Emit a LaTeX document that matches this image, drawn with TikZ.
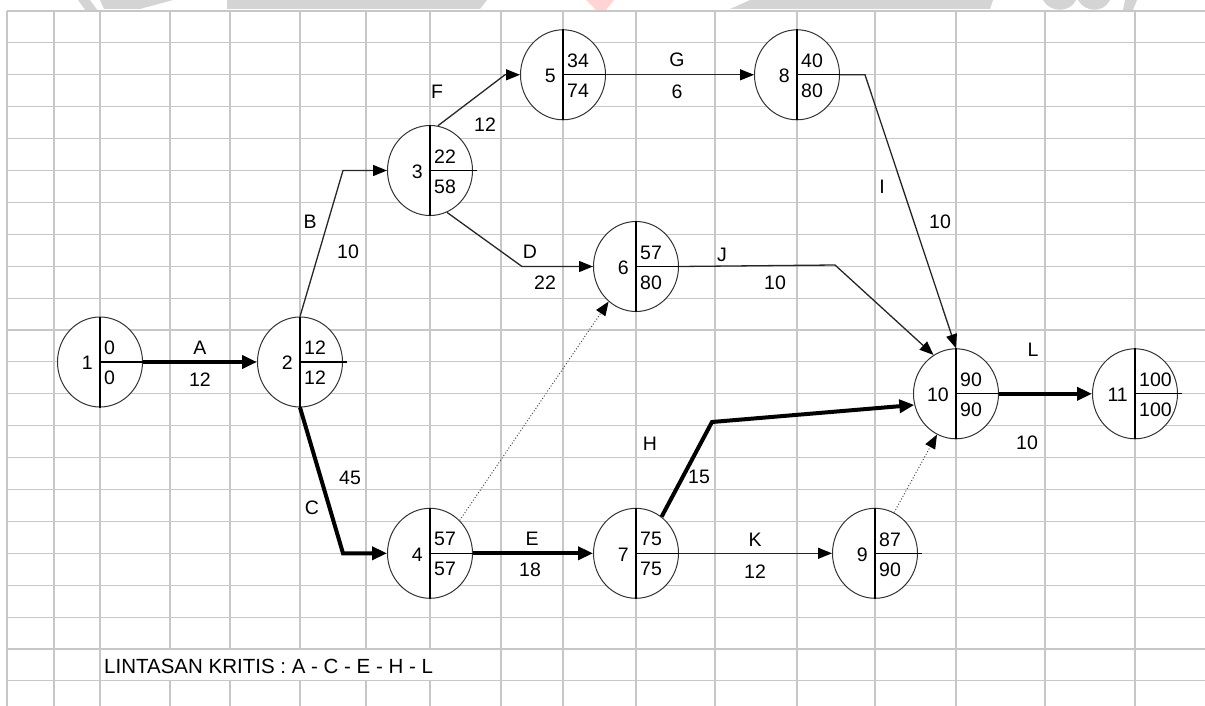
\documentclass[tikz,border=0pt]{standalone}
\usepackage{fontspec}
\setmainfont{Liberation Sans}
\usetikzlibrary{arrows.meta,shapes.geometric,calc}

% event node: name, x, y, number, earliest time, latest time
\newcommand\eventnode[6]{%
  \node[event] (#1) at (#2,#3) {};
  \draw[divider] (#1.north) -- (#1.south);
  \draw[divider] (#1.center) -- ($(#1.east)+(4,0)$);
  \node[lbl, anchor=east] (#1-no) at ($(#1.center)+(-7,1)$) {#4};
  \node[lbl, anchor=west] (#1-es) at ($(#1.center)+(4,-14)$) {#5};
  \node[lbl, anchor=west] (#1-ls) at ($(#1.center)+(4,16)$) {#6};
}

\begin{document}
\begin{tikzpicture}[x=1pt,y=-1pt,
  gridline/.style={draw=black!22, line width=1.1pt},
  wm/.style={fill=black!17},
  event/.style={draw=black!80, line width=1pt, fill=white, ellipse,
    minimum width=85pt, minimum height=90pt, inner sep=0pt},
  divider/.style={draw=black, line width=1.3pt},
  lbl/.style={font=\fontsize{19.5}{21}\selectfont, inner sep=0pt},
  act/.style={draw=black!85, line width=1.3pt, -{Triangle[length=14pt,width=11pt,color=black]}},
  crit/.style={draw=black, line width=4pt, -{Triangle[length=15pt,width=13pt]}},
  dummy/.style={draw=black!70, line width=1pt, dotted, -{Triangle[length=14pt,width=11pt,color=black]}},
]
\useasboundingbox (0,0) rectangle (1205,706);

% faded marks along the top edge
\begin{scope}
  \clip (0,0) rectangle (1205,10.5);
  \fill[wm] (78,0) -- (90,0) -- (98,11) -- (86,11) -- cycle;
  \fill[wm] (100,0) -- (173,0) -- (140,9) -- (104,9) -- cycle;
  \fill[wm] (227,0) -- (487,0) -- (480,9) -- (227,9) -- cycle;
  \fill[red!17] (586,0) -- (614,0) -- (606,10) -- (596,10) -- cycle;
  \fill[wm] (750,0) -- (993,0) -- (990,9) -- (730,9) -- cycle;
  \fill[wm] (1043,0) .. controls (1050,13) and (1070,13) .. (1076,0) -- cycle;
  \fill[wm] (1078,0) .. controls (1085,13) and (1104,13) .. (1110,0) -- cycle;
  \fill[wm] (1125,0) -- (1137,0) -- (1133,10) -- (1123,10) -- cycle;
\end{scope}

% sheet grid
\foreach \k in {0,...,21}
  \draw[gridline] (7,{11+31.9*\k}) -- (1205,{11+31.9*\k});
\foreach \x in {7,54,100,170,230,300,366,430,501,563,636,715,797,875,956,1045,1135}
  \draw[gridline] (\x,11) -- (\x,706);
\fill[white] (100.7,649.6) rectangle (500.4,680.3);

% events
\eventnode{n1}{100}{362}{1}{0}{0}
\eventnode{n2}{300}{362}{2}{12}{12}
\eventnode{n3}{430}{170.5}{3}{22}{58}
\eventnode{n4}{430}{553.3}{4}{57}{57}
\eventnode{n5}{563}{74.8}{5}{34}{74}
\eventnode{n6}{636}{266.5}{6}{57}{80}
\eventnode{n7}{636}{553.3}{7}{75}{75}
\eventnode{n8}{797}{74.8}{8}{40}{80}
\eventnode{n9}{875}{553.3}{9}{87}{90}
\eventnode{n10}{956}{393.8}{10}{90}{90}
\eventnode{n11}{1135}{393.8}{11}{100}{100}

% bend points of the activity arrows
\coordinate (bB) at (343,170.5);
\coordinate (bC) at (343,553.3);
\coordinate (bF) at (505,74.8);
\coordinate (bD) at (522,266.5);
\coordinate (bI) at (865,74.8);
\coordinate (bJ) at (835,265);
\coordinate (bH) at (712,422);

% activities
\draw[crit] (n1.east) -- (n2.west);
\draw[act] (n2.north) -- (bB) -- (n3.west);
\draw[crit] (n2.south) -- (bC) -- (n4.west);
\draw[act] (n3.80) -- (bF) -- (n5.west);
\draw[act] (n3.-68) -- (bD) -- (n6.west);
\draw[act] (n5.east) -- (n8.west);
\draw[act] (n8.east) -- (bI) -- (n10.north);
\draw[act] (n6.east) -- (bJ) -- (n10.120);
\draw[dummy] (n4.48) -- (n6.-128);
\draw[crit] (n4.east) -- (n7.west);
\draw[crit] (n7.55) -- (bH) -- (n10.-165);
\draw[act] (n7.east) -- (n9.west);
\draw[dummy] (n9.65) -- (n10.-115);
\draw[crit] (n10.east) -- (n11.west);

% activity names and durations
\node[lbl] (tA) at (200,348) {A};
\node[lbl] (dA) at (200,380) {12};
\node[lbl] (tB) at (310,222) {B};
\node[lbl] (dB) at (348,252) {10};
\node[lbl] (tC) at (312,508) {C};
\node[lbl] (dC) at (350,478) {45};
\node[lbl] (tF) at (437,92) {F};
\node[lbl] (dF) at (485,125) {12};
\node[lbl] (tG) at (677,60) {G};
\node[lbl] (dG) at (677,92) {6};
\node[lbl] (tD) at (530,252) {D};
\node[lbl] (dD) at (545,283) {22};
\node[lbl] (tI) at (882,187) {I};
\node[lbl] (dI) at (940,222) {10};
\node[lbl] (tJ) at (722,255) {J};
\node[lbl] (dJ) at (775,283) {10};
\node[lbl] (tL) at (1033,350) {L};
\node[lbl] (dL) at (1027,443) {10};
\node[lbl] (tH) at (650,444) {H};
\node[lbl] (dH) at (699,477) {15};
\node[lbl] (tE) at (532,539) {E};
\node[lbl] (dE) at (530,570) {18};
\node[lbl] (tK) at (755,540) {K};
\node[lbl] (dK) at (755,572) {12};

\node[lbl, anchor=west, font=\fontsize{20.5}{22}\selectfont] (crit) at (104,666) {LINTASAN KRITIS : A - C - E - H - L};
\end{tikzpicture}
\end{document}
